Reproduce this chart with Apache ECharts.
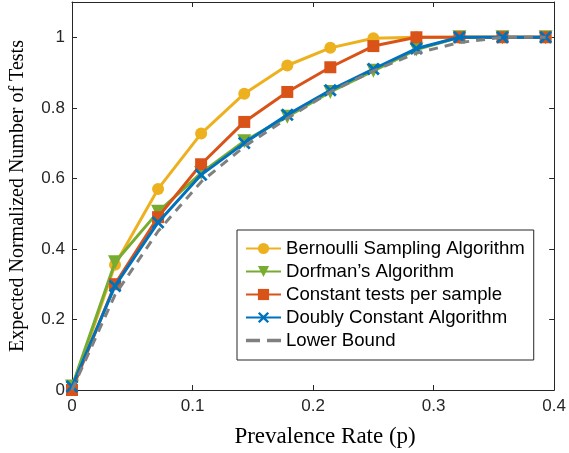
<!DOCTYPE html>
<html>
<head>
<meta charset="utf-8">
<script src="https://cdn.jsdelivr.net/npm/echarts@6/dist/echarts.min.js"></script>
<style>
  html, body { margin: 0; padding: 0; background: #fff; }
  #chart { width: 569px; height: 453px; }
</style>
</head>
<body>
<div id="chart"></div>
<script>
// prevalence values p = k/28
const prevalence = [0, 0.0357, 0.0714, 0.1071, 0.1429, 0.1786, 0.2143, 0.25, 0.2857, 0.3214, 0.3571, 0.3929];

const bernoulli = [0.0, 0.355, 0.57, 0.727, 0.84, 0.92, 0.97, 0.997, 1.0, 1.0, 1.0, 1.0];
const dorfman = [0.01, 0.362, 0.505, 0.615, 0.705, 0.775, 0.845, 0.905, 0.965, 1.0, 1.0, 1.0];
const constantTests = [0.0, 0.30, 0.49, 0.64, 0.76, 0.845, 0.915, 0.975, 1.0, 1.0, 1.0, 1.0];
const doublyConstant = [0.01, 0.295, 0.475, 0.61, 0.70, 0.78, 0.85, 0.91, 0.968, 1.0, 1.0, 1.0];
const lowerBound = [0.0, 0.27, 0.45, 0.59, 0.69, 0.77, 0.845, 0.905, 0.955, 0.985, 1.0, 1.0];

const xTicks = [0, 0.1, 0.2, 0.3, 0.4];
const yTicks = [0, 0.2, 0.4, 0.6, 0.8, 1];

const seriesNames = [
  'Bernoulli Sampling Algorithm',
  'Dorfman\u2019s Algorithm',
  'Constant tests per sample',
  'Doubly Constant Algorithm',
  'Lower Bound'
];

const crossPath = 'path://M0,3 L3,0 L10,7 L17,0 L20,3 L13,10 L20,17 L17,20 L10,13 L3,20 L0,17 L7,10 Z';
const dashIcon = 'path://M0,0 H12 V3 H0 Z M18,0 H30 V3 H18 Z';

function pairs(ys) {
  return prevalence.map((p, i) => [p, ys[i]]);
}

function fmt(v) {
  return Number(v.toFixed(1)).toString();
}

const axisColor = '#262626';
const sansFont = '"Liberation Sans", Arial, sans-serif';
const serifFont = '"Liberation Serif", "Times New Roman", serif';

const chart = echarts.init(document.getElementById('chart'));

chart.setOption({
  animation: false,
  grid: { left: 71, right: 14, top: 2, bottom: 61 },
  legend: {
    orient: 'vertical',
    left: 237,
    top: 230,
    padding: [9, 9, 10, 8],
    itemGap: 4,
    itemWidth: 35,
    itemHeight: 14,
    backgroundColor: '#fff',
    borderColor: axisColor,
    borderWidth: 1,
    textStyle: { fontFamily: sansFont, fontSize: 18.6, color: '#000' },
    data: [
      seriesNames[0],
      seriesNames[1],
      seriesNames[2],
      seriesNames[3],
      { name: seriesNames[4], icon: dashIcon }
    ]
  },
  xAxis: [
    {
      type: 'value',
      min: xTicks[0],
      max: xTicks[xTicks.length - 1],
      interval: 0.1,
      position: 'bottom',
      name: 'Prevalence Rate (p)',
      nameLocation: 'middle',
      nameGap: 35,
      nameTextStyle: { fontFamily: serifFont, fontSize: 23, color: '#000', padding: [0, 0, 0, 24] },
      axisLine: { onZero: false, lineStyle: { color: axisColor } },
      axisTick: { inside: true, length: 5, lineStyle: { color: axisColor } },
      axisLabel: { fontFamily: sansFont, fontSize: 17, color: '#262626', margin: 8, formatter: fmt },
      splitLine: { show: false }
    },
    {
      type: 'value',
      min: xTicks[0],
      max: xTicks[xTicks.length - 1],
      interval: 0.1,
      position: 'top',
      axisLine: { onZero: false, lineStyle: { color: axisColor } },
      axisTick: { inside: true, length: 5, lineStyle: { color: axisColor } },
      axisLabel: { show: false },
      splitLine: { show: false }
    }
  ],
  yAxis: [
    {
      type: 'value',
      min: yTicks[0],
      max: 1.1,
      interval: 0.2,
      position: 'left',
      name: 'Expected Normalized Number of Tests',
      nameLocation: 'middle',
      nameGap: 44,
      nameTextStyle: { fontFamily: serifFont, fontSize: 20, color: '#000' },
      axisLine: { onZero: false, lineStyle: { color: axisColor } },
      axisTick: { inside: true, length: 5, lineStyle: { color: axisColor } },
      axisLabel: {
        fontFamily: sansFont, fontSize: 17, color: '#262626', margin: 7,
        showMaxLabel: false, formatter: fmt
      },
      splitLine: { show: false }
    },
    {
      type: 'value',
      min: yTicks[0],
      max: 1.1,
      interval: 0.2,
      position: 'right',
      axisLine: { onZero: false, lineStyle: { color: axisColor } },
      axisTick: { inside: true, length: 5, lineStyle: { color: axisColor } },
      axisLabel: { show: false },
      splitLine: { show: false }
    }
  ],
  series: [
    {
      name: seriesNames[0],
      type: 'line',
      data: pairs(bernoulli),
      color: '#EDB120',
      symbol: 'circle',
      symbolSize: 12,
      lineStyle: { width: 3 },
      z: 2
    },
    {
      name: seriesNames[1],
      type: 'line',
      data: pairs(dorfman),
      color: '#77AC30',
      symbol: 'triangle',
      symbolRotate: 180,
      symbolSize: 14,
      lineStyle: { width: 3 },
      z: 3
    },
    {
      name: seriesNames[2],
      type: 'line',
      data: pairs(constantTests),
      color: '#D95319',
      symbol: 'rect',
      symbolSize: 12,
      lineStyle: { width: 3 },
      z: 4
    },
    {
      name: seriesNames[3],
      type: 'line',
      data: pairs(doublyConstant),
      color: '#0072BD',
      symbol: crossPath,
      symbolSize: 13,
      lineStyle: { width: 3 },
      z: 5
    },
    {
      name: seriesNames[4],
      type: 'line',
      data: pairs(lowerBound),
      color: '#808080',
      symbol: 'none',
      lineStyle: { width: 3, type: [9, 7] },
      z: 6
    }
  ]
});
</script>
</body>
</html>
